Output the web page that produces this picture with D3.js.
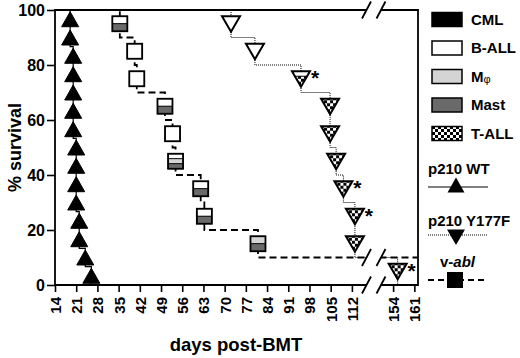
<!DOCTYPE html>
<html><head><meta charset="utf-8">
<script src="https://cdn.jsdelivr.net/npm/d3@7"></script>
<style>
body{margin:0;background:#fff}
svg{display:block}
text{font-family:"Liberation Sans",Arial,Helvetica,sans-serif;font-weight:bold;fill:#000}
</style>
</head><body>
<svg id="c" width="520" height="358"></svg>
<script>
// ---------- data ----------
const yTicks = [0, 20, 40, 60, 80, 100];
const xTicksMain = [14, 21, 28, 35, 42, 49, 56, 63, 70, 77, 84, 91, 98, 105, 112];
const xTicksLate = [154, 161];

// p210 WT (CML)
const cmlDays = [19, 19, 20, 20, 20, 20, 20, 21, 21, 21, 21, 22, 22, 24, 26];
const cmlSurvival = [93.3, 86.7, 80, 73.3, 66.7, 60, 53.3, 46.7, 40, 33.3, 26.7, 20, 13.3, 6.7, 0];

// v-abl
const vablDays = [35.4, 40.3, 41, 50.3, 52.8, 53.8, 62.1, 63.3, 81];
const vablSurvival = [90, 80, 70, 60, 50, 40, 30, 20, 10];
const vablDisease = ["WD", "W", "W", "WD", "W", "WLD", "WD", "WD", "LD"];
const vablLastDay = 162.2;

// p210 Y177F
const y177Days = [72.1, 80, 95.2, 104.8, 104.8, 106.8, 109.2, 113, 113, 155.5];
const y177Survival = [90, 80, 70, 60, 50, 40, 30, 20, 10, 0];
const y177Disease = ["W", "W", "WT", "T", "T", "T", "T", "T", "T", "T"];
const y177Star = [0, 0, 1, 0, 0, 0, 1, 1, 0, 1];

const legendLabels = ["CML", "B-ALL", "Mφ", "Mast", "T-ALL"];
const legendFills = ["C", "W", "L", "D", "T"];

// ---------- setup ----------
const svg = d3.select("#c");
const fillOf = {C: "#000", W: "#fff", L: "#d4d4d4", D: "#6a6a6a", T: "url(#checker)"};

const defs = svg.append("defs");
const pat = defs.append("pattern").attr("id", "checker").attr("patternUnits", "userSpaceOnUse")
  .attr("width", 6).attr("height", 6);
pat.append("rect").attr("width", 6).attr("height", 6).attr("fill", "#fff");
pat.append("rect").attr("width", 3).attr("height", 3).attr("fill", "#000");
pat.append("rect").attr("x", 3).attr("y", 3).attr("width", 3).attr("height", 3).attr("fill", "#000");

const TW = 9, TH = 7.5;
const downTri = `M${-TW},${-TH}L${TW},${-TH}L0,${TH + 0.5}Z`;
const upTri = `M${-8.5},${TH}L8.5,${TH}L0,${-TH}Z`;
defs.append("clipPath").attr("id", "downClip").append("path").attr("d", downTri);

const x = d3.scaleLinear().domain([14, 116, 151, 162.2]).range([55, 364, 384, 418]);
const y = d3.scaleLinear().domain([0, 100]).range([285, 10]);

// ---------- axes ----------
const yAxis = svg.append("g").attr("transform", "translate(55,0)")
  .call(d3.axisLeft(y).tickValues(yTicks).tickSize(8).tickPadding(2));
yAxis.select(".domain").remove();
yAxis.selectAll(".tick line").attr("stroke-width", 1.6);
yAxis.selectAll(".tick text").style("font-size", "16px").attr("dy", "0.36em");

const xAxis = svg.append("g").attr("transform", "translate(0,285)")
  .call(d3.axisBottom(x).tickValues(xTicksMain.concat(xTicksLate)).tickSize(7).tickFormat(d3.format("d")));
xAxis.select(".domain").remove();
xAxis.selectAll(".tick line").attr("stroke-width", 1.6);
xAxis.selectAll(".tick text")
  .style("font-size", "15px")
  .attr("text-anchor", "end")
  .attr("transform", "translate(0,12) rotate(-90)")
  .attr("x", 0).attr("y", 0).attr("dy", "0.36em");

// frame
const [fx0, fx1] = [x(14), x(162.2)];
const [fy0, fy1] = [y(100), y(0)];
svg.append("path").attr("d", `M${fx0},${fy0}V${fy1}H${fx1}V${fy0}Z`)
  .attr("fill", "none").attr("stroke", "#000").attr("stroke-width", 1.8);

// axis titles
svg.append("text").attr("transform", `translate(15,${(fy0 + fy1) / 2}) rotate(-90)`)
  .attr("text-anchor", "middle").attr("dy", "0.36em").style("font-size", "18px").text("% survival");
svg.append("text").attr("x", 236).attr("y", 351).attr("text-anchor", "middle")
  .style("font-size", "18.5px").text("days post-BMT");

// ---------- KM lines ----------
const stepLine = d3.line().x(d => x(d[0])).y(d => y(d[1])).curve(d3.curveStepAfter);
const pts = (days, surv, startDay, endPt) => {
  const p = [[startDay, 100]];
  days.forEach((d, i) => p.push([d, surv[i]]));
  if (endPt) p.push(endPt);
  return p;
};
svg.append("path").attr("d", stepLine(pts(cmlDays, cmlSurvival, 14)))
  .attr("fill", "none").attr("stroke", "#000").attr("stroke-width", 1.2);
svg.append("path").attr("d", stepLine(pts(vablDays, vablSurvival, 14, [vablLastDay, vablSurvival[vablSurvival.length - 1]])))
  .attr("fill", "none").attr("stroke", "#000").attr("stroke-width", 1.8).attr("stroke-dasharray", "7,4");
svg.append("path").attr("d", stepLine(pts(y177Days, y177Survival, 14)))
  .attr("fill", "none").attr("stroke", "#000").attr("stroke-width", 1).attr("stroke-dasharray", "1,1");

// ---------- axis break ----------
const bMid = (x(116) + x(151)) / 2;
const b1 = bMid - 7.5, b2 = bMid + 7;
[y(100), y(10), y(0)].forEach(cy => {
  svg.append("path").attr("d", `M${b1 - 4.5},${cy + 8.5}L${b1 + 4.5},${cy - 8.5}L${b2 + 4.5},${cy - 8.5}L${b2 - 4.5},${cy + 8.5}Z`)
    .attr("fill", "#fff");
  [b1, b2].forEach(bx => svg.append("line")
    .attr("x1", bx - 4.5).attr("y1", cy + 8.5).attr("x2", bx + 4.5).attr("y2", cy - 8.5)
    .attr("stroke", "#000").attr("stroke-width", 1.8));
});

// ---------- markers ----------
const prevS = (surv, i) => i === 0 ? 100 : surv[i - 1];

// CML up triangles
svg.append("g").selectAll("path").data(cmlDays).join("path")
  .attr("transform", (d, i) => `translate(${x(d)},${y((prevS(cmlSurvival, i) + cmlSurvival[i]) / 2)})`)
  .attr("d", upTri).attr("fill", "#000").attr("stroke", "#000").attr("stroke-width", 1);

// v-abl squares
const S = 15;
vablDays.forEach((d, i) => {
  const g = svg.append("g").attr("transform",
    `translate(${x(d)},${y((prevS(vablSurvival, i) + vablSurvival[i]) / 2)})`);
  const bands = vablDisease[i].split("");
  const bh = S / bands.length;
  bands.forEach((b, k) => {
    g.append("rect").attr("x", -S / 2).attr("y", -S / 2 + k * bh).attr("width", S).attr("height", bh)
      .attr("fill", fillOf[b]).attr("stroke", "#000").attr("stroke-width", 0.8);
  });
  g.append("rect").attr("x", -S / 2).attr("y", -S / 2).attr("width", S).attr("height", S)
    .attr("fill", "none").attr("stroke", "#000").attr("stroke-width", 1.8);
});

// Y177F down triangles
y177Days.forEach((d, i) => {
  const cx = x(d), cy = y((prevS(y177Survival, i) + y177Survival[i]) / 2);
  const g = svg.append("g").attr("transform", `translate(${cx},${cy})`);
  const inner = g.append("g").attr("clip-path", "url(#downClip)");
  const code = y177Disease[i];
  if (code === "W") {
    inner.append("rect").attr("x", -TW).attr("y", -TH).attr("width", 2 * TW).attr("height", 2 * TH + 1).attr("fill", "#fff");
  } else if (code === "WT") {
    inner.append("rect").attr("x", -TW).attr("y", -TH).attr("width", 2 * TW).attr("height", 2 * TH + 1).attr("fill", "url(#checker)");
    inner.append("rect").attr("x", -TW).attr("y", -TH).attr("width", 2 * TW).attr("height", 5).attr("fill", "#fff")
      .attr("stroke", "#000").attr("stroke-width", 1);
  } else {
    inner.append("rect").attr("x", -TW).attr("y", -TH).attr("width", 2 * TW).attr("height", 2 * TH + 1).attr("fill", "url(#checker)");
  }
  g.append("path").attr("d", downTri).attr("fill", "none").attr("stroke", "#000").attr("stroke-width", 2)
    .attr("stroke-linejoin", "miter");
  if (y177Star[i]) {
    svg.append("text").attr("x", cx + 14).attr("y", cy - 6).attr("dy", "0.6em")
      .attr("text-anchor", "middle").style("font-size", "21px").text("*");
  }
});

// ---------- legend ----------
const lg = svg.append("g");
legendLabels.forEach((lab, i) => {
  const ly = 12.5 + i * 28.5;
  lg.append("rect").attr("x", 432).attr("y", ly).attr("width", 30).attr("height", 14)
    .attr("fill", fillOf[legendFills[i]]).attr("stroke", "#000").attr("stroke-width", 1.5);
  const t = lg.append("text").attr("x", 471).attr("y", ly + 7).attr("dy", "0.36em").style("font-size", "15px");
  if (lab === "Mφ") {
    t.append("tspan").text("M");
    t.append("tspan").style("font-size", "11px").style("font-weight", "normal").attr("dy", "1").text("φ");
  } else t.text(lab);
});

lg.append("text").attr("x", 428).attr("y", 174).style("font-size", "15px").text("p210 WT");
lg.append("line").attr("x1", 428).attr("x2", 488).attr("y1", 187).attr("y2", 187).attr("stroke", "#000").attr("stroke-width", 1.2);
lg.append("path").attr("transform", "translate(456,185)").attr("d", upTri).attr("fill", "#000");

lg.append("text").attr("x", 428).attr("y", 226).style("font-size", "15px").text("p210 Y177F");
lg.append("line").attr("x1", 428).attr("x2", 488).attr("y1", 235).attr("y2", 235).attr("stroke", "#000").attr("stroke-width", 1).attr("stroke-dasharray", "1,1");
lg.append("path").attr("transform", "translate(456,237)").attr("d", downTri).attr("fill", "#000");

const vt = lg.append("text").attr("x", 440).attr("y", 267).style("font-size", "15px");
vt.append("tspan").text("v-");
vt.append("tspan").style("font-style", "italic").text("abl");
lg.append("line").attr("x1", 428).attr("x2", 488).attr("y1", 280).attr("y2", 280).attr("stroke", "#000").attr("stroke-width", 1.8).attr("stroke-dasharray", "6,4");
lg.append("rect").attr("x", 447).attr("y", 272).attr("width", 16).attr("height", 16).attr("fill", "#000");
</script>
</body></html>
